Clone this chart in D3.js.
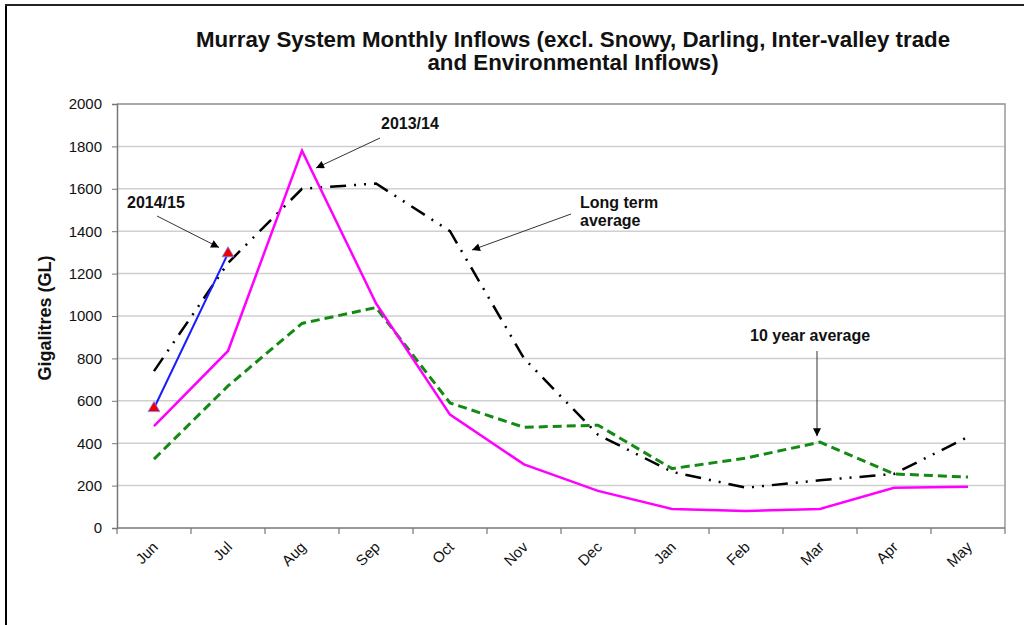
<!DOCTYPE html>
<html>
<head>
<meta charset="utf-8">
<script src="https://cdn.jsdelivr.net/npm/d3@7"></script>
<style>
  body { margin: 0; background: #fff; }
  svg { font-family: "Liberation Sans", Arial, sans-serif; }
</style>
</head>
<body>
<svg id="chart" width="1024" height="625"></svg>
<script>
// months on the x axis
var months = ["Jun", "Jul", "Aug", "Sep", "Oct", "Nov", "Dec", "Jan", "Feb", "Mar", "Apr", "May"];
var yTicks = [0, 200, 400, 600, 800, 1000, 1200, 1400, 1600, 1800, 2000];

// series (GL)
var inflow1314 = [480, 835, 1780, 1060, 535, 300, 175, 90, 80, 90, 190, 195];
var longTerm = [740, 1250, 1600, 1625, 1400, 800, 440, 265, 190, 225, 255, 430];
var tenYear = [325, 670, 965, 1040, 590, 475, 485, 280, 330, 405, 255, 240];
var inflow1415 = [565, 1295];

var svg = d3.select("#chart");
var plotL = 117, plotR = 1005, plotT = 104, plotB = 528;

var x = d3.scaleBand().domain(months).range([plotL, plotR]);
var y = d3.scaleLinear().domain([0, 2000]).range([plotB, plotT]);
var cx = function(i) { return x(months[i]) + x.bandwidth() / 2; };

// page frame
svg.append("line").attr("x1", 6).attr("x2", 6).attr("y1", 4).attr("y2", 625)
  .attr("stroke", "#000").attr("stroke-width", 2);
svg.append("line").attr("x1", 5).attr("x2", 1024).attr("y1", 5).attr("y2", 5)
  .attr("stroke", "#222").attr("stroke-width", 2);

// arrow head
svg.append("defs").append("marker")
  .attr("id", "arr").attr("viewBox", "0 0 10 10").attr("refX", 10).attr("refY", 5)
  .attr("markerWidth", 10).attr("markerHeight", 8).attr("markerUnits", "userSpaceOnUse")
  .attr("orient", "auto")
  .append("path").attr("d", "M0,0 L10,5 L0,10 z").attr("fill", "#000");

// gridlines
svg.append("g").selectAll("line").data(yTicks.slice(1)).enter().append("line")
  .attr("x1", plotL).attr("x2", plotR)
  .attr("y1", function(d) { return y(d); }).attr("y2", function(d) { return y(d); })
  .attr("stroke", "#d0d0d0").attr("stroke-width", 1.5);

// plot border (top/right)
svg.append("path").attr("d", "M" + plotL + "," + plotT + "H" + plotR + "V" + plotB)
  .attr("fill", "none").attr("stroke", "#999").attr("stroke-width", 1.5);

// y axis
var yAxis = svg.append("g").attr("transform", "translate(" + plotL + ",0)")
  .call(d3.axisLeft(y).tickValues(yTicks).tickFormat(d3.format("d")).tickSize(5).tickPadding(10));
yAxis.select(".domain").attr("stroke", "#777").attr("stroke-width", 1.5);
yAxis.selectAll(".tick line").attr("stroke", "#777");
yAxis.selectAll("text").attr("font-size", 15).attr("fill", "#111")
  .attr("font-family", "Liberation Sans, Arial, sans-serif");

// x axis, ticks between categories
var xAxis = svg.append("g").attr("transform", "translate(0," + plotB + ")");
xAxis.append("line").attr("x1", plotL).attr("x2", plotR).attr("stroke", "#777").attr("stroke-width", 1.5);
var bounds = months.map(function(m) { return x(m); }).concat([plotR]);
xAxis.selectAll(".tk").data(bounds).enter().append("line")
  .attr("x1", function(d) { return d; }).attr("x2", function(d) { return d; })
  .attr("y1", 0).attr("y2", 6).attr("stroke", "#777").attr("stroke-width", 1.2);
xAxis.selectAll(".lbl").data(months).enter().append("text")
  .attr("transform", function(d, i) { return "translate(" + (cx(i) + 5) + ",20) rotate(-45)"; })
  .attr("text-anchor", "end").attr("font-size", 15).attr("fill", "#111")
  .text(function(d) { return d; });

// lines
var line = d3.line().x(function(d, i) { return cx(i); }).y(function(d) { return y(d); });

svg.append("path").datum(tenYear).attr("d", line).attr("fill", "none")
  .attr("stroke", "#138a13").attr("stroke-width", 3).attr("stroke-dasharray", "9,5");
svg.append("path").datum(longTerm).attr("d", line).attr("fill", "none")
  .attr("stroke", "#000").attr("stroke-width", 2.5)
  .attr("stroke-dasharray", "16,8,2,8,2,8");
svg.append("path").datum(inflow1314).attr("d", line).attr("fill", "none")
  .attr("stroke", "#ff00ff").attr("stroke-width", 2.5);
svg.append("path").datum(inflow1415).attr("d", line).attr("fill", "none")
  .attr("stroke", "#1a1aff").attr("stroke-width", 2);
svg.selectAll(".tri").data(inflow1415).enter().append("path")
  .attr("d", d3.symbol().type(d3.symbolTriangle).size(60))
  .attr("transform", function(d, i) { return "translate(" + cx(i) + "," + y(d) + ")"; })
  .attr("fill", "#ee0000").attr("stroke", "#8080ff").attr("stroke-width", 0.8);

// title
var title = svg.append("text").attr("x", 573).attr("text-anchor", "middle")
  .attr("font-size", 22.3).attr("font-weight", "bold").attr("fill", "#111");
title.append("tspan").attr("x", 573).attr("y", 47)
  .text("Murray System Monthly Inflows (excl. Snowy, Darling, Inter-valley trade");
title.append("tspan").attr("x", 573).attr("y", 70).text("and Environmental Inflows)");

// y label
svg.append("text").attr("transform", "translate(51,318) rotate(-90)")
  .attr("text-anchor", "middle").attr("font-size", 18).attr("font-weight", "bold")
  .attr("fill", "#111").text("Gigalitres (GL)");

// annotations
function note(lines, tx, ty, x1, y1, x2, y2) {
  var t = svg.append("text").attr("font-size", 16).attr("font-weight", "bold").attr("fill", "#111");
  lines.forEach(function(s, k) {
    t.append("tspan").attr("x", tx).attr("y", ty + k * 18).text(s);
  });
  svg.append("line").attr("x1", x1).attr("y1", y1).attr("x2", x2).attr("y2", y2)
    .attr("stroke", "#333").attr("stroke-width", 1).attr("marker-end", "url(#arr)");
}
note(["2014/15"], 127, 208, 157, 216, cx(1) - 9, y(1295) - 6);
note(["2013/14"], 381, 129, 380, 138, cx(2) + 14, 168);
note(["Long term", "average"], 580, 208, 571, 214, 472, 250);
note(["10 year average"], 750, 341, cx(9) - 3, 351, cx(9) - 3, y(405) - 6);
</script>
</body>
</html>
